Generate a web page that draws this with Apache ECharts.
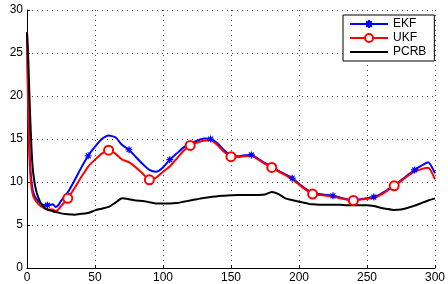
<!DOCTYPE html>
<html>
<head>
<meta charset="utf-8">
<script src="https://cdn.jsdelivr.net/npm/echarts@6/dist/echarts.min.js"></script>
<style>
  html, body { margin: 0; padding: 0; background: #fff; }
  #chart { width: 448px; height: 284px; }
</style>
</head>
<body>
<div id="chart"></div>
<script>
  var steps = [0, 1, 2, 3, 4, 5, 7, 10, 13, 15, 17, 19, 21, 23, 25,
    30, 35, 40, 45, 50, 55, 60, 65, 70, 75, 80, 85, 90, 95, 100,
    105, 110, 115, 120, 125, 130, 135, 140, 145, 150, 155, 160, 165, 170, 175,
    180, 185, 190, 195, 200, 205, 210, 215, 220, 225, 230, 235, 240, 245, 250,
    255, 260, 265, 270, 275, 280, 285, 290, 295, 300];

  var ekf = [27.4, 19, 13, 10.5, 9.2, 8.6, 8.0, 7.5, 7.3, 7.3, 7.35, 7.4, 7.1, 7.3, 7.8,
    8.8, 10.2, 11.7, 13.05, 14.1, 15.0, 15.4, 15.2, 14.3, 13.75, 12.9, 12.1, 11.4, 11.2, 11.7,
    12.6, 13.3, 14.0, 14.5, 14.8, 15.05, 15.0, 14.5, 13.7, 13.1, 13.0, 13.1, 13.15, 12.7, 12.2,
    11.8, 11.3, 10.9, 10.45, 9.8, 9.2, 8.75, 8.6, 8.5, 8.4, 8.2, 8.0, 7.9, 8.0, 8.1,
    8.25, 8.6, 9.1, 9.6, 10.2, 10.8, 11.4, 11.9, 12.3, 11.0];

  var ukf = [27.4, 17, 12, 9.8, 8.7, 8.2, 7.7, 7.2, 6.9, 6.8, 6.8, 6.8, 6.6, 6.8, 7.2,
    8.1, 9.3, 10.6, 11.8, 12.6, 13.3, 13.7, 13.3, 12.6, 12.3, 11.7, 11.0, 10.25, 10.5, 11.2,
    11.8, 12.7, 13.6, 14.25, 14.6, 14.8, 14.85, 14.3, 13.5, 12.95, 12.9, 13.0, 13.05, 12.6, 12.1,
    11.7, 11.2, 10.8, 10.3, 9.7, 9.1, 8.6, 8.5, 8.4, 8.35, 8.1, 7.95, 7.85, 7.95, 8.05,
    8.15, 8.5, 9.0, 9.55, 10.1, 10.7, 11.2, 11.5, 11.65, 10.3];

  var pcrb = [27.4, 24, 19, 15, 12, 10.5, 8.8, 7.6, 7.0, 6.8, 6.7, 6.6, 6.5, 6.45, 6.35,
    6.25, 6.2, 6.3, 6.4, 6.7, 6.9, 7.1, 7.6, 8.1, 8.0, 7.85, 7.8, 7.65, 7.5, 7.5,
    7.5, 7.55, 7.7, 7.85, 8.0, 8.15, 8.25, 8.35, 8.4, 8.45, 8.5, 8.5, 8.5, 8.5, 8.55,
    8.85, 8.6, 8.1, 7.9, 7.7, 7.55, 7.4, 7.35, 7.35, 7.35, 7.35, 7.3, 7.3, 7.3, 7.3,
    7.2, 7.0, 6.85, 6.75, 6.8, 7.0, 7.25, 7.55, 7.85, 8.1];

  var asterisk = 'path://M0,-5L0,5M-5,0L5,0M-3.5,-3.5L3.5,3.5M-3.5,3.5L3.5,-3.5';
  var font = 'Liberation Sans';

  function build(ys, keep) {
    return steps.map(function (x, i) {
      if (keep(x)) return [x, ys[i]];
      return { value: [x, ys[i]], symbol: 'none' };
    });
  }

  var chart = echarts.init(document.getElementById('chart'));
  chart.setOption({
    animation: false,
    grid: { left: 27, right: 11, top: 10, bottom: 16 },
    legend: {
      orient: 'vertical',
      left: 343,
      top: 15,
      itemWidth: 38,
      itemHeight: 10,
      itemGap: 2,
      padding: [3, 8, 3, 6],
      borderColor: '#000',
      borderWidth: 1,
      backgroundColor: '#fff',
      textStyle: { fontFamily: font, fontSize: 12, color: '#000' },
      data: ['EKF', 'UKF', { name: 'PCRB', itemStyle: { opacity: 0 } }]
    },
    xAxis: {
      type: 'value',
      min: 0, max: 300, interval: 50,
      axisLine: { lineStyle: { color: '#000', width: 1 } },
      axisTick: { inside: true, length: 3, lineStyle: { color: '#000' } },
      axisLabel: { fontFamily: font, fontSize: 12, color: '#000', margin: 4 },
      splitLine: { show: true, lineStyle: { color: '#444', type: [1, 4], width: 1 } }
    },
    yAxis: {
      type: 'value',
      min: 0, max: 30, interval: 5,
      axisLine: { show: true, lineStyle: { color: '#000', width: 1 } },
      axisTick: { show: true, inside: true, length: 3, lineStyle: { color: '#000' } },
      axisLabel: { fontFamily: font, fontSize: 12, color: '#000', margin: 4 },
      splitLine: { show: true, lineStyle: { color: '#444', type: [1, 4], width: 1 } }
    },
    series: [
      {
        name: 'EKF', type: 'line', smooth: 0.2,
        symbol: asterisk, symbolSize: 7, showAllSymbol: true,
        lineStyle: { color: '#0000ff', width: 2 },
        itemStyle: { color: '#0000ff', borderColor: '#0000ff', borderWidth: 1.2 },
        data: build(ekf, function (x) { return x % 30 === 15; })
      },
      {
        name: 'UKF', type: 'line', smooth: 0.2,
        symbol: 'emptyCircle', symbolSize: 9, showAllSymbol: true,
        lineStyle: { color: '#ff0000', width: 2 },
        itemStyle: { color: '#ff0000', borderColor: '#ff0000', borderWidth: 1.6 },
        data: build(ukf, function (x) { return x % 30 === 0 && x > 0 && x < 300; })
      },
      {
        name: 'PCRB', type: 'line', smooth: 0.2,
        symbol: 'none',
        lineStyle: { color: '#000', width: 2 },
        itemStyle: { color: '#000' },
        data: steps.map(function (x, i) { return [x, pcrb[i]]; })
      }
    ]
  });
</script>
</body>
</html>
